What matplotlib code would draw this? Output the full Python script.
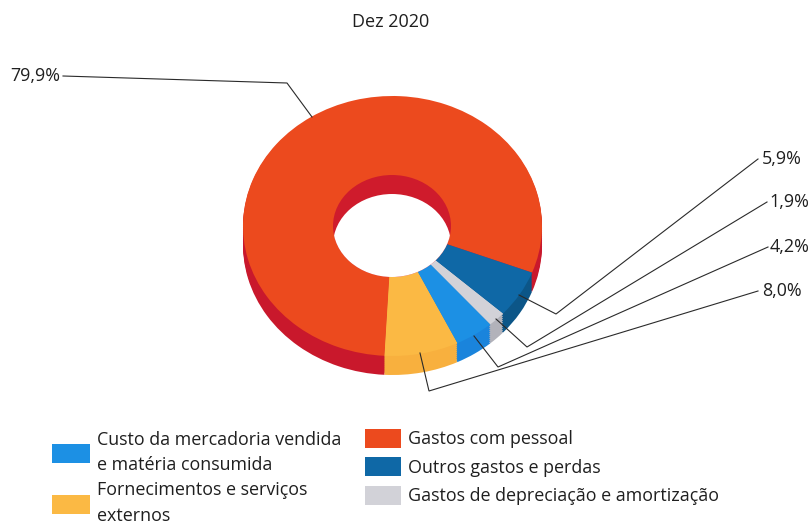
import matplotlib
matplotlib.use("Agg")
import matplotlib.pyplot as plt
from matplotlib.patches import Ellipse

title = "Dez 2020"
categories = ["Gastos com pessoal", "Fornecimentos e serviços\nexternos",
              "Custo da mercadoria vendida\ne matéria consumida",
              "Gastos de depreciação e amortização", "Outros gastos e perdas"]
values = [79.9, 8.0, 4.2, 1.9, 5.9]
value_labels = ["79,9%", "8,0%", "4,2%", "1,9%", "5,9%"]
top_colors = ["#EC4A1E", "#FBB944", "#1C90E4", "#D2D2D8", "#0F68A6"]
side_colors = ["#C9182C", "#F8B03E", "#1A84DC", "#B2B2BA", "#0C5688"]

W, H = 811, 524
plt.rcParams['font.family'] = ['Open Sans', 'DejaVu Sans']
fig = plt.figure(figsize=(W / 100, H / 100), dpi=100)
ax = fig.add_axes([0, 0, 1, 1])

CX, CY, RX, RY, DEPTH = 392.5, 226, 149.5, 130, 19
K = RX / RY
START = -21


def py(p):
    return (H - p) * K


for d in list(range(DEPTH, 0, -2)):
    ax.pie(values, colors=side_colors, startangle=START, radius=RX,
           center=(CX, py(CY + d)), frame=False)
wedges, _ = ax.pie(values, colors=top_colors, startangle=START, radius=RX,
                   center=(CX, py(CY)), frame=False)
ax.set_aspect('auto')
ax.set_xlim(0, W)
ax.set_ylim(0, H * K)
ax.set_xticks([])
ax.set_yticks([])
ax.axis('off')

HX, HY, HRX, HRY = 392, 226, 59, 51
wall = Ellipse((HX, py(HY)), 2 * HRX, 2 * HRY * K, fc="#CF1B2C", ec="none", zorder=5)
ax.add_patch(wall)
hole = Ellipse((HX, py(HY + DEPTH)), 2 * HRX, 2 * HRY * K, fc="white", ec="none", zorder=6)
ax.add_patch(hole)
hole.set_clip_path(wall)

ov = fig.add_axes([0, 0, 1, 1], frameon=False)
ov.patch.set_visible(False)
ov.set_xlim(0, W)
ov.set_ylim(H, 0)
ov.set_xticks([])
ov.set_yticks([])

ink = "#1f1f1f"
ov.text(390.5, 22, title, ha='center', va='center', fontsize=13, color=ink)

paths = {
    "79,9%": (((63, 76), (287, 83), (312, 117)), (10, 76)),
    "5,9%": (((758, 159), (556, 314), (519, 295)), (762, 159)),
    "1,9%": (((767, 202), (527, 347), (496, 319)), (769, 202)),
    "4,2%": (((768, 247), (498, 367), (474, 336)), (770, 247)),
    "8,0%": (((758, 291), (429, 391), (420, 353)), (762, 291)),
}
for lab in value_labels:
    pts, tpos = paths[lab]
    ov.plot([p[0] for p in pts], [p[1] for p in pts], color="#2a2a2a", lw=0.8, solid_joinstyle='miter')
    ov.text(tpos[0], tpos[1], lab, ha='left', va='center', fontsize=12.9, color=ink)

leg_kw = dict(frameon=False, fontsize=12.9, handleheight=1.25,
              handletextpad=0.4, borderpad=0, borderaxespad=0, labelcolor=ink)
left = [2, 1]
right = [0, 4, 3]
trans = ov.transData
l1 = ov.legend([wedges[i] for i in left], [categories[i] for i in left],
               loc='upper left', bbox_to_anchor=(52, 431), bbox_transform=trans,
               labelspacing=0.4, handlelength=2.1, **leg_kw)
for t in l1.get_texts():
    t.set_linespacing(1.52)
ov.add_artist(l1)
l2 = ov.legend([wedges[i] for i in right], [categories[i] for i in right],
               loc='upper left', bbox_to_anchor=(365, 429), bbox_transform=trans,
               labelspacing=0.5, handlelength=2.0, **leg_kw)

fig.savefig("out.png", dpi=100, facecolor="white")
